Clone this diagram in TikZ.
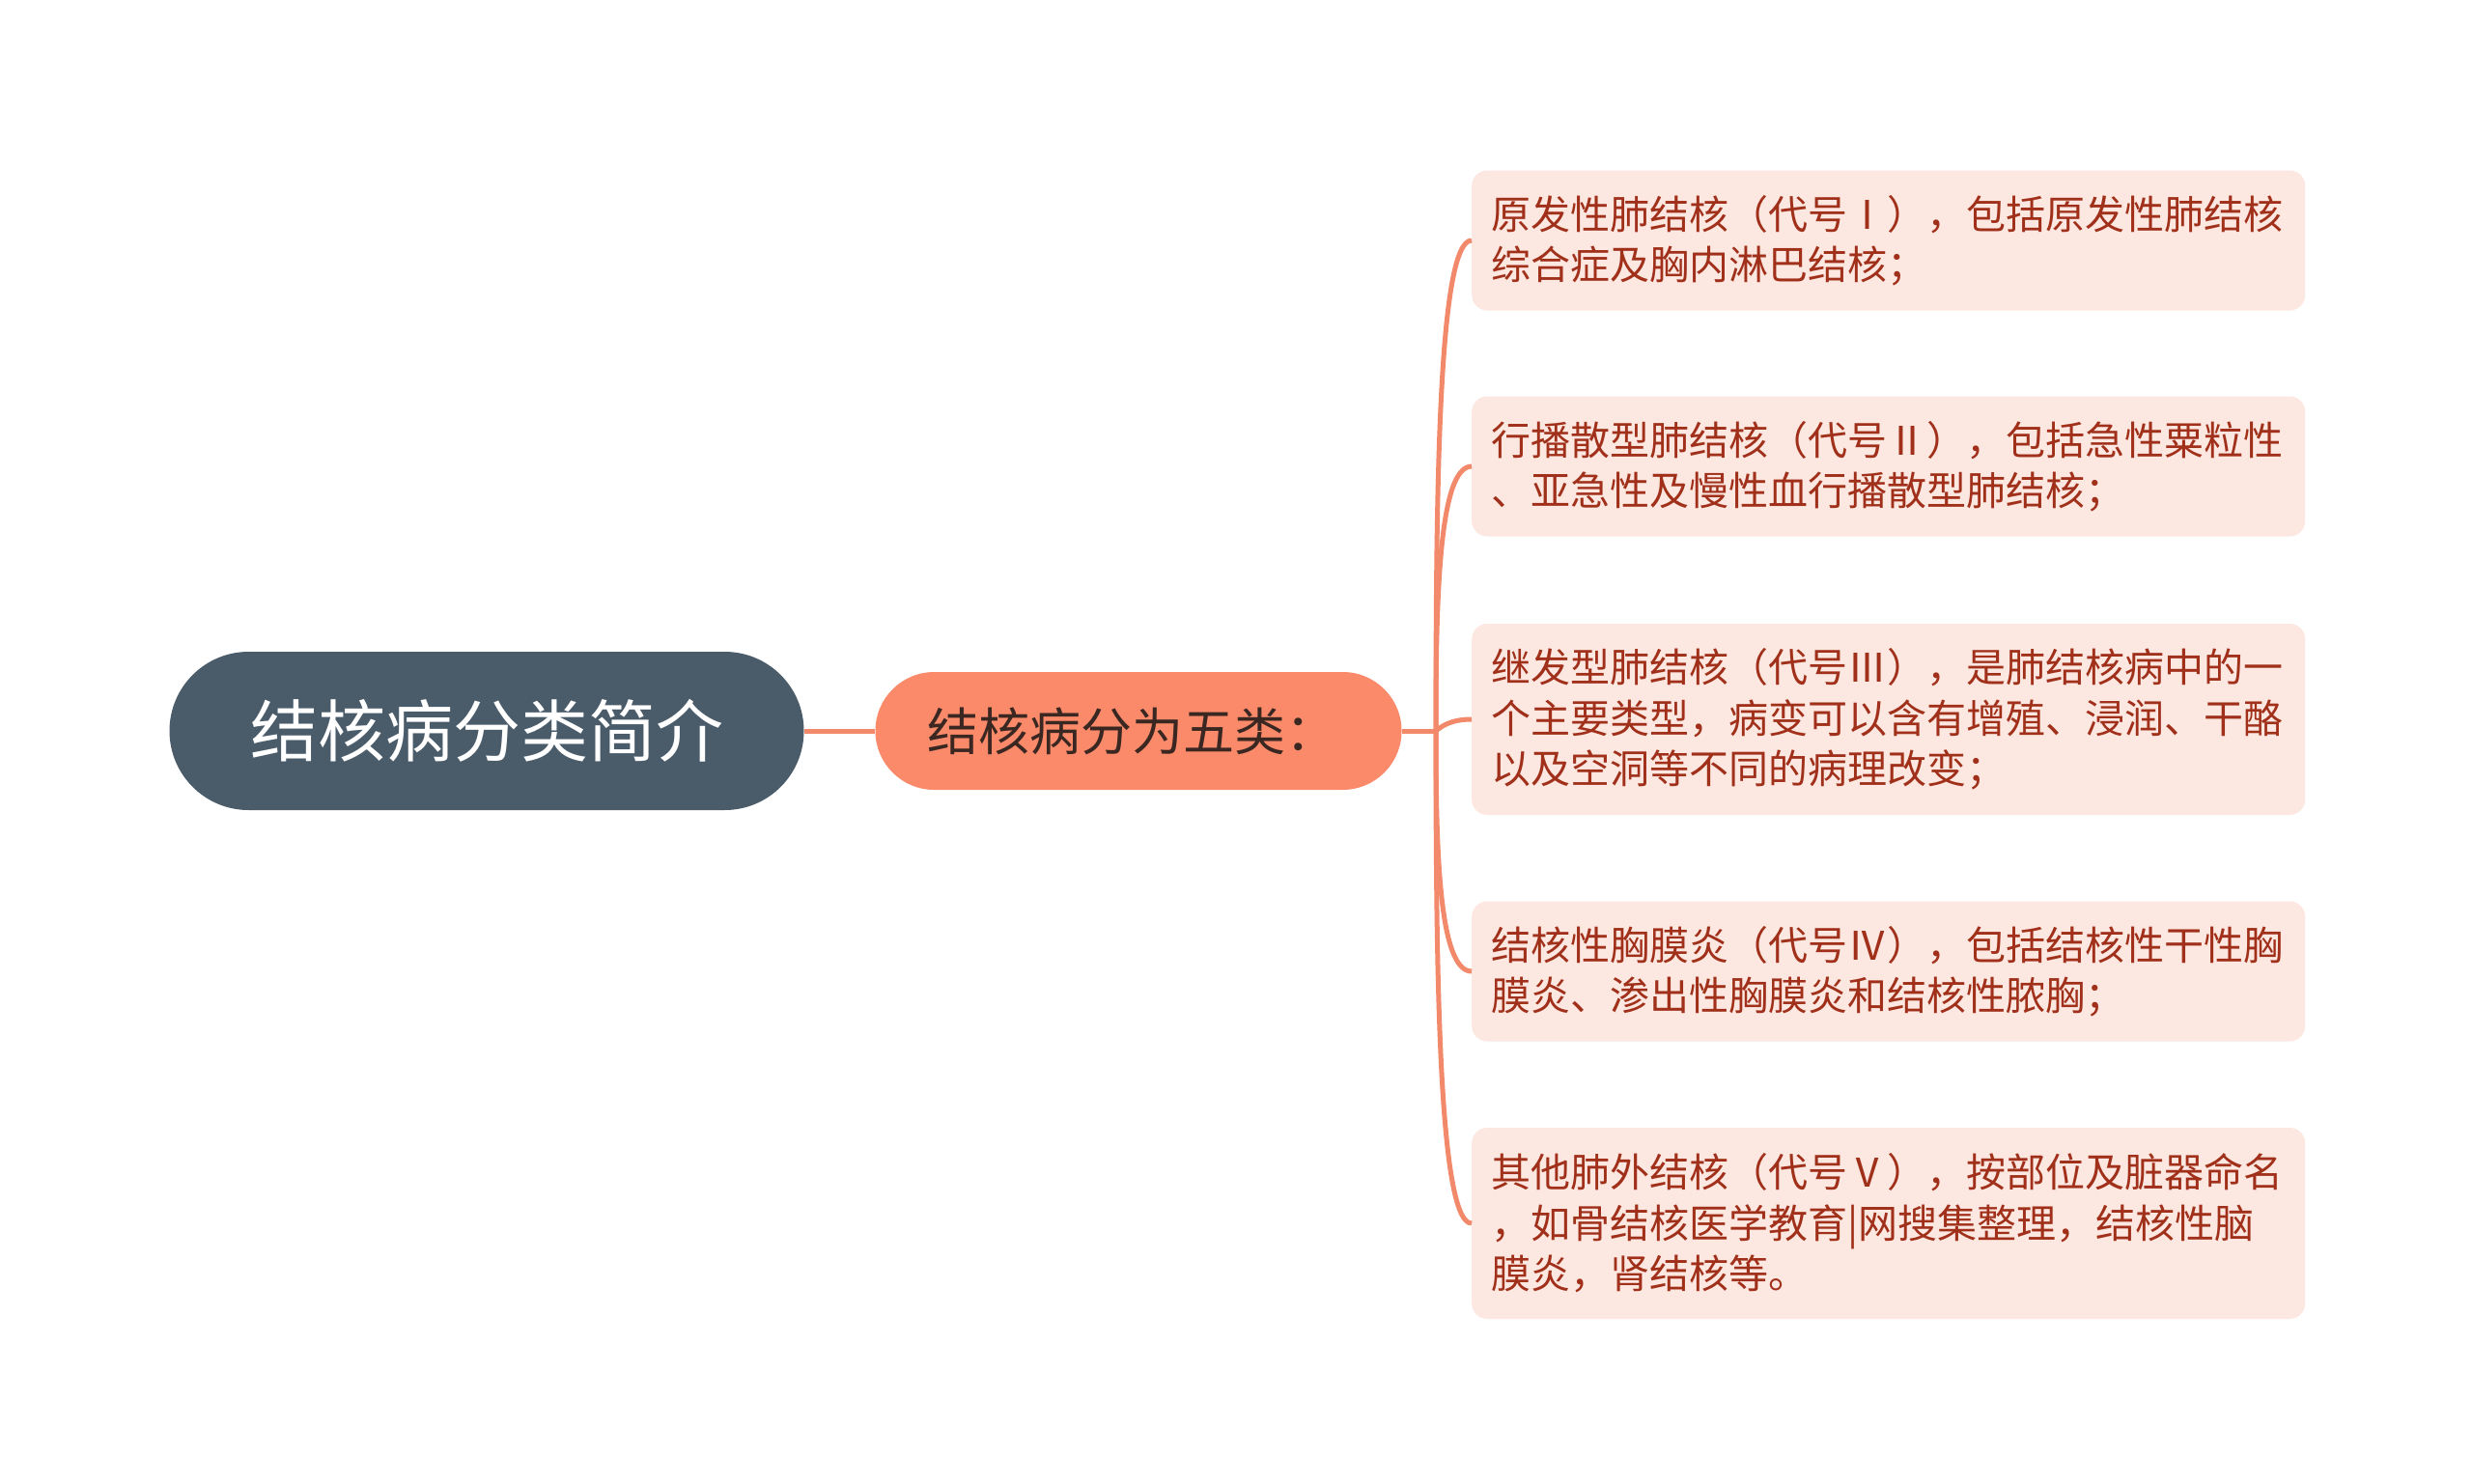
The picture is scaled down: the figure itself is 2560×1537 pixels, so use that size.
\documentclass[tikz,border=0pt]{standalone}
\usepackage{fontspec}
\setmainfont{Noto Sans CJK SC}
\definecolor{rootfill}{HTML}{4A5B6A}
\definecolor{midfill}{HTML}{FA8A69}
\definecolor{midtext}{HTML}{3A2722}
\definecolor{leaffill}{HTML}{FDE7E1}
\definecolor{leaftext}{HTML}{A0301A}
\definecolor{linkcol}{HTML}{F2896B}
\begin{document}
\begin{tikzpicture}[x=1pt,y=-1pt,
  rootbox/.style={draw=none,fill=rootfill,text=white,rounded corners=82pt,minimum width=657pt,minimum height=164pt,inner sep=0pt,font=\fontsize{70}{84}\selectfont},
  midbox/.style={draw=none,fill=midfill,text=midtext,rounded corners=61pt,minimum width=545pt,minimum height=122pt,inner sep=0pt,font=\fontsize{53}{62}\selectfont},
  leafbox/.style={draw=none,fill=leaffill,text=leaftext,rounded corners=16pt,minimum width=863pt,text width=822pt,inner xsep=20.5pt,inner ysep=0pt,align=left,anchor=west,font=\fontsize{41}{52.5}\selectfont},
  link/.style={draw=linkcol,line width=5pt}]
\useasboundingbox (0,0) rectangle (2560,1537);
\fill[white] (0,0) rectangle (2560,1537);

\node[rootbox] (root) at (504,757) {结核病分类简介};
\node[midbox] (mid) at (1179,757) {结核病分为五类：\hspace*{14pt}};

\node[leafbox,minimum height=145pt] (l1) at (1524,249) {原发性肺结核（代号Ⅰ），包括原发性肺结核\\综合症及胸内淋巴结核；};
\node[leafbox,minimum height=145pt] (l2) at (1524,483) {行播散型肺结核（代号Ⅱ），包括急性粟粒性\\、亚急性及慢性血行播散型肺结核；};
\node[leafbox,minimum height=198pt] (l3) at (1524,745) {继发型肺结核（代号Ⅲ），是肺结核病中的一\\个主要类型，病变可以含有增殖、浸润、干酪\\以及空洞等不同的病理改变；};
\node[leafbox,minimum height=145pt] (l4) at (1524,1006) {结核性胸膜炎（代号Ⅳ），包括结核性干性胸\\膜炎、渗出性胸膜炎和结核性脓胸；};
\node[leafbox,minimum height=198pt] (l5) at (1524,1267) {其他肺外结核（代号Ⅴ），按部位及脏器命名\\，如骨结核医学教育|网搜集整理，结核性脑\\膜炎，肾结核等。};

\coordinate (J) at (1487,757);
\draw[link] (root.east) -- (mid.west);
\draw[link] (mid.east) -- (J);
\draw[link] (J) .. controls (1487,500) and (1490,249) .. (l1.west);
\draw[link] (J) .. controls (1487,620) and (1490,483) .. (l2.west);
\draw[link] (J) .. controls (1493,752) and (1503,745) .. (l3.west);
\draw[link] (J) .. controls (1487,880) and (1490,1006) .. (l4.west);
\draw[link] (J) .. controls (1487,1010) and (1490,1267) .. (l5.west);
\end{tikzpicture}
\end{document}
